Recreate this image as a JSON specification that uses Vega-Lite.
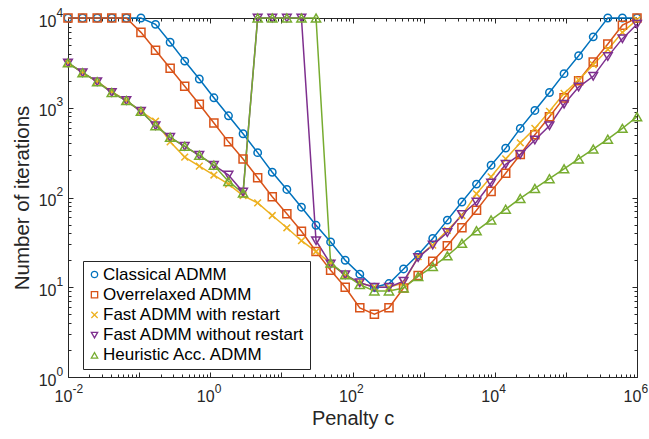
{
"$schema": "https://vega.github.io/schema/vega-lite/v6.json",
"width": 569, "height": 359,
"autosize": {"type": "none"},
"padding": {"left": 68, "top": 18, "right": 12, "bottom": 62},
"background": "white",
"config": {"view": {"stroke": null}, "font": "Liberation Sans"},
"datasets": {
"d": [
{"c":0.01,"it":10000,"s":"Classical ADMM"},{"c":0.016037,"it":10000,"s":"Classical ADMM"},{"c":0.025719,"it":10000,"s":"Classical ADMM"},{"c":0.041246,"it":10000,"s":"Classical ADMM"},{"c":0.066149,"it":10000,"s":"Classical ADMM"},{"c":0.10608,"it":10000,"s":"Classical ADMM"},{"c":0.17012,"it":8500,"s":"Classical ADMM"},{"c":0.27284,"it":5370,"s":"Classical ADMM"},{"c":0.43755,"it":3310,"s":"Classical ADMM"},{"c":0.7017,"it":2090,"s":"Classical ADMM"},{"c":1.1253,"it":1290,"s":"Classical ADMM"},{"c":1.8047,"it":813,"s":"Classical ADMM"},{"c":2.8943,"it":513,"s":"Classical ADMM"},{"c":4.6416,"it":316,"s":"Classical ADMM"},{"c":7.4438,"it":191,"s":"Classical ADMM"},{"c":11.938,"it":123,"s":"Classical ADMM"},{"c":19.145,"it":78,"s":"Classical ADMM"},{"c":30.703,"it":49,"s":"Classical ADMM"},{"c":49.239,"it":32,"s":"Classical ADMM"},{"c":78.966,"it":20,"s":"Classical ADMM"},{"c":126.64,"it":14,"s":"Classical ADMM"},{"c":203.09,"it":10,"s":"Classical ADMM"},{"c":325.7,"it":11,"s":"Classical ADMM"},{"c":522.33,"it":16,"s":"Classical ADMM"},{"c":837.67,"it":23,"s":"Classical ADMM"},{"c":1343.4,"it":35,"s":"Classical ADMM"},{"c":2154.4,"it":56,"s":"Classical ADMM"},{"c":3455.1,"it":89,"s":"Classical ADMM"},{"c":5541,"it":141,"s":"Classical ADMM"},{"c":8886.2,"it":229,"s":"Classical ADMM"},{"c":14251,"it":355,"s":"Classical ADMM"},{"c":22855,"it":589,"s":"Classical ADMM"},{"c":36653,"it":933,"s":"Classical ADMM"},{"c":58780,"it":1479,"s":"Classical ADMM"},{"c":94267,"it":2399,"s":"Classical ADMM"},{"c":151180,"it":3802,"s":"Classical ADMM"},{"c":242450,"it":6166,"s":"Classical ADMM"},{"c":388820,"it":10000,"s":"Classical ADMM"},{"c":623550,"it":10000,"s":"Classical ADMM"},{"c":1000000,"it":10000,"s":"Classical ADMM"},
{"c":0.01,"it":10000,"s":"Overrelaxed ADMM"},{"c":0.016037,"it":10000,"s":"Overrelaxed ADMM"},{"c":0.025719,"it":10000,"s":"Overrelaxed ADMM"},{"c":0.041246,"it":10000,"s":"Overrelaxed ADMM"},{"c":0.066149,"it":10000,"s":"Overrelaxed ADMM"},{"c":0.10608,"it":6918,"s":"Overrelaxed ADMM"},{"c":0.17012,"it":4365,"s":"Overrelaxed ADMM"},{"c":0.27284,"it":2754,"s":"Overrelaxed ADMM"},{"c":0.43755,"it":1738,"s":"Overrelaxed ADMM"},{"c":0.7017,"it":1096,"s":"Overrelaxed ADMM"},{"c":1.1253,"it":676,"s":"Overrelaxed ADMM"},{"c":1.8047,"it":417,"s":"Overrelaxed ADMM"},{"c":2.8943,"it":269,"s":"Overrelaxed ADMM"},{"c":4.6416,"it":166,"s":"Overrelaxed ADMM"},{"c":7.4438,"it":102,"s":"Overrelaxed ADMM"},{"c":11.938,"it":66,"s":"Overrelaxed ADMM"},{"c":19.145,"it":42,"s":"Overrelaxed ADMM"},{"c":30.703,"it":25,"s":"Overrelaxed ADMM"},{"c":49.239,"it":15.5,"s":"Overrelaxed ADMM"},{"c":78.966,"it":10,"s":"Overrelaxed ADMM"},{"c":126.64,"it":5.9,"s":"Overrelaxed ADMM"},{"c":203.09,"it":5,"s":"Overrelaxed ADMM"},{"c":325.7,"it":5.9,"s":"Overrelaxed ADMM"},{"c":522.33,"it":9.8,"s":"Overrelaxed ADMM"},{"c":837.67,"it":13.5,"s":"Overrelaxed ADMM"},{"c":1343.4,"it":19.5,"s":"Overrelaxed ADMM"},{"c":2154.4,"it":29,"s":"Overrelaxed ADMM"},{"c":3455.1,"it":46,"s":"Overrelaxed ADMM"},{"c":5541,"it":72,"s":"Overrelaxed ADMM"},{"c":8886.2,"it":117,"s":"Overrelaxed ADMM"},{"c":14251,"it":186,"s":"Overrelaxed ADMM"},{"c":22855,"it":302,"s":"Overrelaxed ADMM"},{"c":36653,"it":501,"s":"Overrelaxed ADMM"},{"c":58780,"it":794,"s":"Overrelaxed ADMM"},{"c":94267,"it":1288,"s":"Overrelaxed ADMM"},{"c":151180,"it":1995,"s":"Overrelaxed ADMM"},{"c":242450,"it":3236,"s":"Overrelaxed ADMM"},{"c":388820,"it":5129,"s":"Overrelaxed ADMM"},{"c":623550,"it":8318,"s":"Overrelaxed ADMM"},{"c":1000000,"it":10000,"s":"Overrelaxed ADMM"},
{"c":0.01,"it":3162,"s":"Fast ADMM with restart"},{"c":0.016037,"it":2455,"s":"Fast ADMM with restart"},{"c":0.025719,"it":1950,"s":"Fast ADMM with restart"},{"c":0.041246,"it":1514,"s":"Fast ADMM with restart"},{"c":0.066149,"it":1202,"s":"Fast ADMM with restart"},{"c":0.10608,"it":912,"s":"Fast ADMM with restart"},{"c":0.17012,"it":708,"s":"Fast ADMM with restart"},{"c":0.27284,"it":417,"s":"Fast ADMM with restart"},{"c":0.43755,"it":282,"s":"Fast ADMM with restart"},{"c":0.7017,"it":224,"s":"Fast ADMM with restart"},{"c":1.1253,"it":178,"s":"Fast ADMM with restart"},{"c":1.8047,"it":141,"s":"Fast ADMM with restart"},{"c":2.8943,"it":105,"s":"Fast ADMM with restart"},{"c":4.6416,"it":87,"s":"Fast ADMM with restart"},{"c":7.4438,"it":63,"s":"Fast ADMM with restart"},{"c":11.938,"it":46,"s":"Fast ADMM with restart"},{"c":19.145,"it":33,"s":"Fast ADMM with restart"},{"c":30.703,"it":25,"s":"Fast ADMM with restart"},{"c":49.239,"it":18.6,"s":"Fast ADMM with restart"},{"c":78.966,"it":13.5,"s":"Fast ADMM with restart"},{"c":126.64,"it":11.2,"s":"Fast ADMM with restart"},{"c":203.09,"it":10,"s":"Fast ADMM with restart"},{"c":325.7,"it":10,"s":"Fast ADMM with restart"},{"c":522.33,"it":11.2,"s":"Fast ADMM with restart"},{"c":837.67,"it":21.9,"s":"Fast ADMM with restart"},{"c":1343.4,"it":29.5,"s":"Fast ADMM with restart"},{"c":2154.4,"it":43,"s":"Fast ADMM with restart"},{"c":3455.1,"it":63,"s":"Fast ADMM with restart"},{"c":5541,"it":110,"s":"Fast ADMM with restart"},{"c":8886.2,"it":170,"s":"Fast ADMM with restart"},{"c":14251,"it":269,"s":"Fast ADMM with restart"},{"c":22855,"it":407,"s":"Fast ADMM with restart"},{"c":36653,"it":589,"s":"Fast ADMM with restart"},{"c":58780,"it":912,"s":"Fast ADMM with restart"},{"c":94267,"it":1445,"s":"Fast ADMM with restart"},{"c":151180,"it":2042,"s":"Fast ADMM with restart"},{"c":242450,"it":3020,"s":"Fast ADMM with restart"},{"c":388820,"it":4467,"s":"Fast ADMM with restart"},{"c":623550,"it":6918,"s":"Fast ADMM with restart"},{"c":1000000,"it":9550,"s":"Fast ADMM with restart"},
{"c":0.01,"it":3162,"s":"Fast ADMM without restart"},{"c":0.016037,"it":2455,"s":"Fast ADMM without restart"},{"c":0.025719,"it":1950,"s":"Fast ADMM without restart"},{"c":0.041246,"it":1479,"s":"Fast ADMM without restart"},{"c":0.066149,"it":1202,"s":"Fast ADMM without restart"},{"c":0.10608,"it":912,"s":"Fast ADMM without restart"},{"c":0.17012,"it":631,"s":"Fast ADMM without restart"},{"c":0.27284,"it":468,"s":"Fast ADMM without restart"},{"c":0.43755,"it":372,"s":"Fast ADMM without restart"},{"c":0.7017,"it":295,"s":"Fast ADMM without restart"},{"c":1.1253,"it":229,"s":"Fast ADMM without restart"},{"c":1.8047,"it":178,"s":"Fast ADMM without restart"},{"c":2.8943,"it":115,"s":"Fast ADMM without restart"},{"c":4.6416,"it":10000,"s":"Fast ADMM without restart"},{"c":7.4438,"it":10000,"s":"Fast ADMM without restart"},{"c":11.938,"it":10000,"s":"Fast ADMM without restart"},{"c":19.145,"it":10000,"s":"Fast ADMM without restart"},{"c":30.703,"it":33,"s":"Fast ADMM without restart"},{"c":49.239,"it":18.2,"s":"Fast ADMM without restart"},{"c":78.966,"it":13.8,"s":"Fast ADMM without restart"},{"c":126.64,"it":11.2,"s":"Fast ADMM without restart"},{"c":203.09,"it":10,"s":"Fast ADMM without restart"},{"c":325.7,"it":10,"s":"Fast ADMM without restart"},{"c":522.33,"it":11.7,"s":"Fast ADMM without restart"},{"c":837.67,"it":21.4,"s":"Fast ADMM without restart"},{"c":1343.4,"it":29.5,"s":"Fast ADMM without restart"},{"c":2154.4,"it":40.7,"s":"Fast ADMM without restart"},{"c":3455.1,"it":64.6,"s":"Fast ADMM without restart"},{"c":5541,"it":89,"s":"Fast ADMM without restart"},{"c":8886.2,"it":145,"s":"Fast ADMM without restart"},{"c":14251,"it":234,"s":"Fast ADMM without restart"},{"c":22855,"it":302,"s":"Fast ADMM without restart"},{"c":36653,"it":437,"s":"Fast ADMM without restart"},{"c":58780,"it":631,"s":"Fast ADMM without restart"},{"c":94267,"it":1096,"s":"Fast ADMM without restart"},{"c":151180,"it":1698,"s":"Fast ADMM without restart"},{"c":242450,"it":2239,"s":"Fast ADMM without restart"},{"c":388820,"it":3715,"s":"Fast ADMM without restart"},{"c":623550,"it":5888,"s":"Fast ADMM without restart"},{"c":1000000,"it":8511,"s":"Fast ADMM without restart"},
{"c":0.01,"it":3162,"s":"Heuristic Acc. ADMM"},{"c":0.016037,"it":2455,"s":"Heuristic Acc. ADMM"},{"c":0.025719,"it":1950,"s":"Heuristic Acc. ADMM"},{"c":0.041246,"it":1479,"s":"Heuristic Acc. ADMM"},{"c":0.066149,"it":1202,"s":"Heuristic Acc. ADMM"},{"c":0.10608,"it":912,"s":"Heuristic Acc. ADMM"},{"c":0.17012,"it":631,"s":"Heuristic Acc. ADMM"},{"c":0.27284,"it":468,"s":"Heuristic Acc. ADMM"},{"c":0.43755,"it":372,"s":"Heuristic Acc. ADMM"},{"c":0.7017,"it":295,"s":"Heuristic Acc. ADMM"},{"c":1.1253,"it":229,"s":"Heuristic Acc. ADMM"},{"c":1.8047,"it":151,"s":"Heuristic Acc. ADMM"},{"c":2.8943,"it":112,"s":"Heuristic Acc. ADMM"},{"c":4.6416,"it":10000,"s":"Heuristic Acc. ADMM"},{"c":7.4438,"it":10000,"s":"Heuristic Acc. ADMM"},{"c":11.938,"it":10000,"s":"Heuristic Acc. ADMM"},{"c":19.145,"it":10000,"s":"Heuristic Acc. ADMM"},{"c":30.703,"it":10000,"s":"Heuristic Acc. ADMM"},{"c":49.239,"it":18.6,"s":"Heuristic Acc. ADMM"},{"c":78.966,"it":13.8,"s":"Heuristic Acc. ADMM"},{"c":126.64,"it":10.7,"s":"Heuristic Acc. ADMM"},{"c":203.09,"it":9.1,"s":"Heuristic Acc. ADMM"},{"c":325.7,"it":9.1,"s":"Heuristic Acc. ADMM"},{"c":522.33,"it":9.8,"s":"Heuristic Acc. ADMM"},{"c":837.67,"it":13.2,"s":"Heuristic Acc. ADMM"},{"c":1343.4,"it":17,"s":"Heuristic Acc. ADMM"},{"c":2154.4,"it":22.4,"s":"Heuristic Acc. ADMM"},{"c":3455.1,"it":30.9,"s":"Heuristic Acc. ADMM"},{"c":5541,"it":42.7,"s":"Heuristic Acc. ADMM"},{"c":8886.2,"it":56.2,"s":"Heuristic Acc. ADMM"},{"c":14251,"it":74.1,"s":"Heuristic Acc. ADMM"},{"c":22855,"it":97.7,"s":"Heuristic Acc. ADMM"},{"c":36653,"it":126,"s":"Heuristic Acc. ADMM"},{"c":58780,"it":162,"s":"Heuristic Acc. ADMM"},{"c":94267,"it":209,"s":"Heuristic Acc. ADMM"},{"c":151180,"it":269,"s":"Heuristic Acc. ADMM"},{"c":242450,"it":347,"s":"Heuristic Acc. ADMM"},{"c":388820,"it":447,"s":"Heuristic Acc. ADMM"},{"c":623550,"it":589,"s":"Heuristic Acc. ADMM"},{"c":1000000,"it":794,"s":"Heuristic Acc. ADMM"}
]
},
"data": {"name": "d"},
"layer": [
{
"mark": {"type": "line", "strokeWidth": 1.5},
"encoding": {
"x": {"field": "c", "type": "quantitative", "scale": {"type": "log", "domain": [0.01, 1000000], "nice": false},
 "axis": {"orient": "bottom", "values": [0.01, 1, 100, 10000, 1000000], "labelExpr": "'10'", "ticks": false, "domain": false, "grid": false, "labelFont": "Liberation Sans", "labelFontSize": 16, "labelColor": "#262626", "labelOffset": -5, "labelPadding": 11, "labelFlush": false, "labelOverlap": false, "labelBound": false, "title": "Penalty c", "titleFont": "Liberation Sans", "titleFontSize": 20, "titleFontWeight": "normal", "titleColor": "#262626", "titlePadding": 4}},
"y": {"field": "it", "type": "quantitative", "scale": {"type": "log", "domain": [1, 10000], "nice": false},
 "axis": {"orient": "left", "values": [1, 10, 100, 1000, 10000], "labelExpr": "'10'", "ticks": false, "domain": false, "grid": false, "labelFont": "Liberation Sans", "labelFontSize": 16, "labelColor": "#262626", "labelOffset": 3, "labelPadding": 12, "labelFlush": false, "labelOverlap": false, "labelBound": false, "title": "Number of iterations", "titleFont": "Liberation Sans", "titleFontSize": 20.5, "titleFontWeight": "normal", "titleColor": "#262626", "titlePadding": 6}},
"stroke": {"field": "s", "type": "nominal", "scale": {"domain": ["Heuristic Acc. ADMM", "Classical ADMM", "Overrelaxed ADMM", "Fast ADMM with restart", "Fast ADMM without restart"], "range": ["#77AC30", "#0072BD", "#D95319", "#EDB120", "#7E2F8E"]}, "legend": null}
}
},
{
"mark": {"type": "point", "filled": false, "strokeWidth": 1.5, "opacity": 1},
"encoding": {
"x": {"field": "c", "type": "quantitative", "scale": {"type": "log", "domain": [0.01, 1000000], "nice": false},
 "axis": {"orient": "bottom", "values": [0.01, 1, 100, 10000, 1000000], "labelExpr": "datum.value == 0.01 ? '-2' : datum.value == 1 ? '0' : datum.value == 100 ? '2' : datum.value == 10000 ? '4' : '6'", "ticks": false, "domain": false, "grid": false, "labelFont": "Liberation Sans", "labelFontSize": 12, "labelColor": "#262626", "labelAlign": "left", "labelOffset": 4, "labelPadding": 6, "labelFlush": false, "labelOverlap": false, "labelBound": false, "title": null}},
"y": {"field": "it", "type": "quantitative", "scale": {"type": "log", "domain": [1, 10000], "nice": false},
 "axis": {"orient": "left", "values": [1, 10, 100, 1000, 10000], "labelExpr": "datum.value == 1 ? '0' : datum.value == 10 ? '1' : datum.value == 100 ? '2' : datum.value == 1000 ? '3' : '4'", "ticks": false, "domain": false, "grid": false, "labelFont": "Liberation Sans", "labelFontSize": 12, "labelColor": "#262626", "labelAlign": "left", "labelOffset": -6, "labelPadding": 12, "labelFlush": false, "labelOverlap": false, "labelBound": false, "title": null}},
"color": {"field": "s", "type": "nominal", "scale": {"domain": ["Classical ADMM", "Overrelaxed ADMM", "Fast ADMM with restart", "Fast ADMM without restart", "Heuristic Acc. ADMM"], "range": ["#0072BD", "#D95319", "#EDB120", "#7E2F8E", "#77AC30"]},
 "legend": {"title": null, "orient": "none", "legendX": 15, "legendY": 243, "fillColor": "white", "strokeColor": "#262626", "padding": 5, "labelFont": "Liberation Sans", "labelFontSize": 17, "labelColor": "black", "labelLimit": 0, "symbolSize": 40, "symbolStrokeWidth": 1.3, "symbolOffset": -2, "labelOffset": 0, "rowPadding": 2.2}},
"shape": {"field": "s", "type": "nominal", "scale": {"domain": ["Classical ADMM", "Overrelaxed ADMM", "Fast ADMM with restart", "Fast ADMM without restart", "Heuristic Acc. ADMM"], "range": ["circle", "square", "M-1,-1L1,1M-1,1L1,-1", "triangle-down", "triangle-up"]}},
"size": {"field": "s", "type": "nominal", "scale": {"domain": ["Fast ADMM with restart", "Classical ADMM", "Overrelaxed ADMM", "Fast ADMM without restart", "Heuristic Acc. ADMM"], "range": [45, 85, 70, 95, 95]}, "legend": null}
}
},
{
"mark": {"type": "point", "opacity": 0},
"encoding": {
"x": {"field": "c", "type": "quantitative", "scale": {"type": "log", "domain": [0.01, 1000000], "nice": false},
 "axis": {"orient": "bottom", "values": [0.01, 0.1, 1, 10, 100, 1000, 10000, 100000, 1000000], "labels": false, "ticks": true, "tickSize": -5, "tickColor": "#262626", "tickWidth": 1, "domain": true, "domainColor": "#262626", "domainWidth": 1, "grid": false, "title": null}},
"y": {"field": "it", "type": "quantitative", "scale": {"type": "log", "domain": [1, 10000], "nice": false},
 "axis": {"orient": "left", "values": [1, 10, 100, 1000, 10000], "labels": false, "ticks": true, "tickSize": -5, "tickColor": "#262626", "tickWidth": 1, "domain": true, "domainColor": "#262626", "domainWidth": 1, "grid": false, "title": null}}
}
},
{
"mark": {"type": "point", "opacity": 0},
"encoding": {
"x": {"field": "c", "type": "quantitative", "scale": {"type": "log", "domain": [0.01, 1000000], "nice": false},
 "axis": {"orient": "top", "values": [0.01, 0.1, 1, 10, 100, 1000, 10000, 100000, 1000000], "labels": false, "ticks": true, "tickSize": -5, "tickColor": "#262626", "tickWidth": 1, "domain": true, "domainColor": "#262626", "domainWidth": 1, "grid": false, "title": null}},
"y": {"field": "it", "type": "quantitative", "scale": {"type": "log", "domain": [1, 10000], "nice": false},
 "axis": {"orient": "right", "values": [1, 10, 100, 1000, 10000], "labels": false, "ticks": true, "tickSize": -5, "tickColor": "#262626", "tickWidth": 1, "domain": true, "domainColor": "#262626", "domainWidth": 1, "grid": false, "title": null}}
}
},
{
"mark": {"type": "point", "opacity": 0},
"encoding": {
"x": {"field": "c", "type": "quantitative", "scale": {"type": "log", "domain": [0.01, 1000000], "nice": false},
 "axis": {"orient": "bottom", "values": [0.02,0.03,0.04,0.05,0.06,0.07,0.08,0.09,0.2,0.3,0.4,0.5,0.6,0.7,0.8,0.9,2,3,4,5,6,7,8,9,20,30,40,50,60,70,80,90,200,300,400,500,600,700,800,900,2000,3000,4000,5000,6000,7000,8000,9000,20000,30000,40000,50000,60000,70000,80000,90000,200000,300000,400000,500000,600000,700000,800000,900000], "labels": false, "ticks": true, "tickSize": -3, "tickColor": "#262626", "tickWidth": 1, "domain": false, "grid": false, "title": null}},
"y": {"field": "it", "type": "quantitative", "scale": {"type": "log", "domain": [1, 10000], "nice": false},
 "axis": {"orient": "left", "values": [2,3,4,5,6,7,8,9,20,30,40,50,60,70,80,90,200,300,400,500,600,700,800,900,2000,3000,4000,5000,6000,7000,8000,9000], "labels": false, "ticks": true, "tickSize": -3, "tickColor": "#262626", "tickWidth": 1, "domain": false, "grid": false, "title": null}}
}
},
{
"mark": {"type": "point", "opacity": 0},
"encoding": {
"x": {"field": "c", "type": "quantitative", "scale": {"type": "log", "domain": [0.01, 1000000], "nice": false},
 "axis": {"orient": "top", "values": [0.02,0.03,0.04,0.05,0.06,0.07,0.08,0.09,0.2,0.3,0.4,0.5,0.6,0.7,0.8,0.9,2,3,4,5,6,7,8,9,20,30,40,50,60,70,80,90,200,300,400,500,600,700,800,900,2000,3000,4000,5000,6000,7000,8000,9000,20000,30000,40000,50000,60000,70000,80000,90000,200000,300000,400000,500000,600000,700000,800000,900000], "labels": false, "ticks": true, "tickSize": -3, "tickColor": "#262626", "tickWidth": 1, "domain": false, "grid": false, "title": null}},
"y": {"field": "it", "type": "quantitative", "scale": {"type": "log", "domain": [1, 10000], "nice": false},
 "axis": {"orient": "right", "values": [2,3,4,5,6,7,8,9,20,30,40,50,60,70,80,90,200,300,400,500,600,700,800,900,2000,3000,4000,5000,6000,7000,8000,9000], "labels": false, "ticks": true, "tickSize": -3, "tickColor": "#262626", "tickWidth": 1, "domain": false, "grid": false, "title": null}}
}
}
]
}
